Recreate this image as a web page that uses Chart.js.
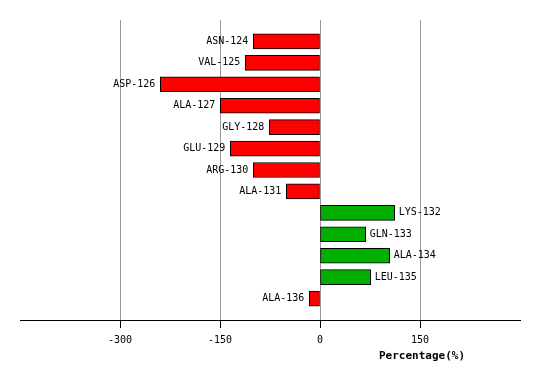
<!DOCTYPE html>
<html>
<head>
<meta charset="utf-8">
<script src="https://cdn.jsdelivr.net/npm/chart.js@4"></script>
<style>
html,body{margin:0;padding:0;background:#fff;}
#wrap{width:540px;height:380px;}
</style>
</head>
<body>
<div id="wrap"><canvas id="c" width="540" height="380"></canvas></div>
<script>
const categories = ['ASN-124','VAL-125','ASP-126','ALA-127','GLY-128','GLU-129','ARG-130','ALA-131','LYS-132','GLN-133','ALA-134','LEU-135','ALA-136'];
const values = [-100, -112, -239.5, -149.5, -76, -134.5, -100, -50.5, 112, 68.5, 104.5, 76, -16];
const tickValues = [-300, -150, 0, 150];
const axisTitle = 'Percentage(%)';

const labels = [''].concat(categories, ['']);
const data = [null].concat(values, [null]);
const colors = data.map(v => (v !== null && v >= 0) ? '#00B000' : '#FF0000');

const FONT = '"DejaVu Sans Mono", monospace';

const labelPlugin = {
  id: 'barLabels',
  afterDatasetsDraw(chart) {
    const ctx = chart.ctx;
    const meta = chart.getDatasetMeta(0);
    ctx.save();
    ctx.font = '10px ' + FONT;
    ctx.fillStyle = '#000';
    ctx.textBaseline = 'middle';
    meta.data.forEach((bar, i) => {
      const v = data[i];
      if (v === null) return;
      const left = Math.min(bar.x, bar.base);
      const right = Math.max(bar.x, bar.base);
      if (v < 0) {
        ctx.textAlign = 'right';
        ctx.fillText(labels[i], left - 5, bar.y);
      } else {
        ctx.textAlign = 'left';
        ctx.fillText(labels[i], right + 4, bar.y);
      }
    });
    const xs = chart.scales.x;
    ctx.font = 'bold 11px ' + FONT;
    ctx.textAlign = 'center';
    ctx.fillText(axisTitle, xs.getPixelForValue(153), xs.top + 36);
    ctx.restore();
  }
};

new Chart(document.getElementById('c'), {
  type: 'bar',
  data: {
    labels: labels,
    datasets: [{
      data: data,
      backgroundColor: colors,
      borderColor: '#000',
      borderWidth: 1,
      borderSkipped: false,
      barThickness: 15
    }]
  },
  options: {
    indexAxis: 'y',
    responsive: false,
    animation: false,
    devicePixelRatio: 1,
    layout: { padding: { left: 20, right: 20, top: 20, bottom: 0 } },
    plugins: { legend: { display: false }, tooltip: { enabled: false } },
    scales: {
      x: {
        type: 'linear',
        min: -450,
        max: 300,
        afterBuildTicks(scale) { scale.ticks = tickValues.map(v => ({ value: v })); },
        afterFit(scale) { scale.height = 60; },
        ticks: {
          font: { family: FONT, size: 10 },
          color: '#000',
          padding: 6,
          maxRotation: 0,
          autoSkip: false
        },
        grid: {
          color: '#999',
          lineWidth: 1,
          tickColor: '#000',
          tickLength: 8,
          drawOnChartArea: true
        },
        border: { display: true, color: '#000', width: 1 }
      },
      y: {
        type: 'category',
        offset: false,
        afterFit(scale) { scale.width = 0; },
        ticks: { display: false },
        grid: { display: false },
        border: { display: false }
      }
    }
  },
  plugins: [labelPlugin]
});
</script>
</body>
</html>
